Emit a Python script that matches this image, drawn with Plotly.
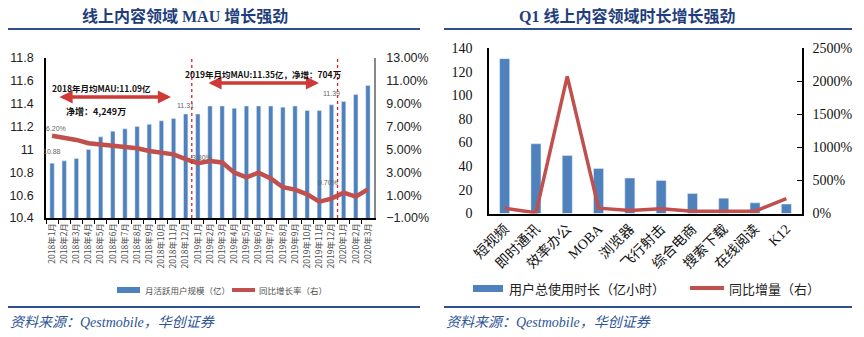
import plotly.graph_objects as go

# ---------------- data: left chart ----------------
months = [f"{y}年{m}月" for y, m in
          [(2018, i) for i in range(1, 13)] + [(2019, i) for i in range(1, 13)] + [(2020, i) for i in range(1, 4)]]
mau = [10.88, 10.90, 10.92, 11.00, 11.11, 11.16, 11.18, 11.20, 11.22, 11.25, 11.27, 11.31,
       11.31, 11.38, 11.38, 11.36, 11.38, 11.38, 11.38, 11.37, 11.38, 11.34, 11.34, 11.39,
       11.42, 11.48, 11.56]
growth = [6.20, 6.03, 5.83, 5.54, 5.42, 5.33, 5.21, 5.10, 4.86, 4.75, 4.57, 4.16,
          3.80, 3.99, 3.86, 2.97, 2.56, 2.97, 2.47, 1.69, 1.48, 1.07, 0.43, 0.70,
          1.22, 0.87, 1.51]
left_y_ticks = [10.4, 10.6, 10.8, 11.0, 11.2, 11.4, 11.6, 11.8]
left_y_text = ["10.4", "10.6", "10.8", "11", "11.2", "11.4", "11.6", "11.8"]

# ---------------- data: right chart ----------------
sectors = ["短视频", "即时通讯", "效率办公", "MOBA", "浏览器", "飞行射击", "综合电商", "搜索下载", "在线阅读", "K12"]
hours = [131, 59, 49, 38, 30, 28, 17, 13, 9, 8]
yoy = [80, 10, 2070, 80, 45, 70, 35, 35, 35, 225]

BLUE = "#4F81BD"
RED = "#C0504D"
NAVY = "#1F3E7C"
W, H = 864, 337


def px(x):
    return x / W


def py(y):
    return 1 - y / H


fig = go.Figure()
fig.add_bar(x=months, y=mau, marker_color=BLUE, width=0.36, xaxis="x", yaxis="y", showlegend=False)
fig.add_scatter(x=months, y=growth, mode="lines", line=dict(color=RED, width=4.5),
                xaxis="x", yaxis="y2", showlegend=False)
fig.add_bar(x=sectors, y=hours, marker_color=BLUE, width=0.32, xaxis="x2", yaxis="y3", showlegend=False)
fig.add_scatter(x=sectors, y=yoy, mode="lines", line=dict(color=RED, width=3.5),
                xaxis="x2", yaxis="y4", showlegend=False)

sans_narrow = "Liberation Sans Narrow, Liberation Sans, Arial"
serif = "Liberation Serif, Noto Sans CJK SC"
cjk = "Noto Sans CJK SC"

fig.update_layout(
    width=W, height=H, margin=dict(l=0, r=0, t=0, b=0, autoexpand=False),
    paper_bgcolor="white", plot_bgcolor="white",
    xaxis=dict(domain=[px(46), px(374)], anchor="y", type="category", range=[-0.5, 26.5],
               tickangle=-90, tickfont=dict(family=cjk, size=8.5, color="#505050"),
               ticks="outside", ticklen=4, tickson="boundaries", tickcolor="#000",
               showline=True, linecolor="#000", linewidth=1.5, showgrid=False, automargin=False),
    yaxis=dict(domain=[py(218), py(58)], anchor="x", range=[10.4, 11.8],
               tickvals=left_y_ticks, ticktext=left_y_text,
               tickfont=dict(family=sans_narrow, size=12.5, color="#222"),
               showline=True, linecolor="#000", linewidth=1.5, showgrid=False,
               ticks="", ticklabelstandoff=8, zeroline=False, automargin=False),
    yaxis2=dict(overlaying="y", side="right", anchor="x", range=[-1, 13], dtick=2, tick0=-1,
                tickformat=".2f", ticksuffix="%",
                tickfont=dict(family=sans_narrow, size=12.5, color="#222"),
                showline=True, linecolor="#888", linewidth=1.5, showgrid=False,
                ticks="", ticklabelstandoff=8, zeroline=False, automargin=False),
    xaxis2=dict(domain=[px(489), px(802)], anchor="y3", type="category", range=[-0.5, 9.5],
                tickangle=-45, tickfont=dict(family=serif, size=14, color="#111"),
                ticks="", showline=True, linecolor="#000", linewidth=1.5, showgrid=False, automargin=False),
    yaxis3=dict(domain=[py(213.5), py(48)], anchor="x2", range=[0, 140], dtick=20,
                tickfont=dict(family=serif, size=14, color="#111"),
                showline=True, linecolor="#000", linewidth=1.5, showgrid=False,
                ticks="", ticklabelstandoff=12, zeroline=False, automargin=False),
    yaxis4=dict(overlaying="y3", side="right", anchor="x2", range=[0, 2500], dtick=500,
                ticksuffix="%", tickfont=dict(family=serif, size=14, color="#111"),
                showline=True, linecolor="#000", linewidth=1.5, showgrid=False,
                ticks="inside", ticklen=5, tickcolor="#000", ticklabelstandoff=6, zeroline=False,
                automargin=False),
)

ann = []
shapes = []


def note(x, y, text, font, xanchor="center"):
    ann.append(dict(x=px(x), y=py(y), xref="paper", yref="paper", showarrow=False,
                    xanchor=xanchor, yanchor="middle", text=text, font=font))


# titles and rules
note(185, 16, "<b>线上内容领域 MAU 增长强劲</b>", dict(family=serif, size=16, color=NAVY))
note(627, 16, "<b>Q1 线上内容领域时长增长强劲</b>", dict(family=serif, size=16, color=NAVY))
for x0, x1 in [(8, 420), (444, 852)]:
    shapes.append(dict(type="line", xref="paper", yref="paper", x0=px(x0), x1=px(x1),
                       y0=py(29), y1=py(29), line=dict(color="#2E4F8F", width=2)))
    shapes.append(dict(type="line", xref="paper", yref="paper", x0=px(x0), x1=px(x1),
                       y0=py(307), y1=py(307), line=dict(color="#2E4F8F", width=2)))
for x0 in [8, 444]:
    note(x0, 322, "<i>资料来源：Qestmobile，华创证券</i>", dict(family=serif, size=14, color="#2E5597"),
         xanchor="left")

# dotted separators (left chart)
for xc in [11.5, 23.5]:
    shapes.append(dict(type="line", xref="x", yref="y domain", x0=xc, x1=xc, y0=0, y1=1,
                       line=dict(color="#E02020", width=1.3, dash="dot")))

# double arrows
for (xa, xb, yy) in [(58, 171, 97), (207, 319, 83)]:
    ann.append(dict(x=px(xb), y=py(yy), ax=-(xb - xa), ay=0, xref="paper", yref="paper",
                    axref="pixel", ayref="pixel", text="", showarrow=True, arrowside="end+start",
                    arrowhead=2, arrowsize=0.75, arrowwidth=3.5, arrowcolor="#D03A36"))
note(101, 88, "<b>2018年月均MAU:11.09亿</b>", dict(family=cjk, size=8.5, color="#111"))
note(64, 112, "<b>净增：4,249万</b>", dict(family=cjk, size=9, color="#111"), xanchor="left")
note(263, 74, "<b>2019年月均MAU:11.35亿，净增：704万</b>", dict(family=cjk, size=8.5, color="#111"))

# data labels
lab_font = dict(family=sans_narrow, size=7, color="#666")
for i, ys in [(0, 12), (11, 8), (23, 11)]:
    ann.append(dict(x=months[i], y=mau[i], xref="x", yref="y", showarrow=False, yshift=ys,
                    xanchor="center", yanchor="middle", text=f"{mau[i]:.2f}", font=lab_font))
for i, ys, xs in [(0, 7, 4), (12, 6, 4), (23, 16, -3)]:
    ann.append(dict(x=months[i], y=growth[i], xref="x", yref="y2", showarrow=False, yshift=ys, xshift=xs,
                    xanchor="center", yanchor="middle", text=f"{growth[i]:.2f}%", font=lab_font))

# manual legends
shapes.append(dict(type="rect", xref="paper", yref="paper", x0=px(117), x1=px(140), y0=py(293), y1=py(287),
                   fillcolor=BLUE, line=dict(width=0)))
note(143, 290, "月活跃用户规模（亿）", dict(family=cjk, size=8.5, color="#505050"), xanchor="left")
shapes.append(dict(type="line", xref="paper", yref="paper", x0=px(232), x1=px(255), y0=py(290), y1=py(290),
                   line=dict(color=RED, width=4)))
note(257, 290, "同比增长率（右）", dict(family=cjk, size=8.5, color="#505050"), xanchor="left")

shapes.append(dict(type="rect", xref="paper", yref="paper", x0=px(473), x1=px(503), y0=py(292), y1=py(285),
                   fillcolor=BLUE, line=dict(width=0)))
note(507, 288, "用户总使用时长（亿小时）", dict(family=cjk, size=13, color="#222"), xanchor="left")
shapes.append(dict(type="line", xref="paper", yref="paper", x0=px(690), x1=px(724), y0=py(288), y1=py(288),
                   line=dict(color=RED, width=4)))
note(727, 288, "同比增量（右）", dict(family=cjk, size=13, color="#222"), xanchor="left")

fig.update_layout(annotations=ann, shapes=shapes)
fig.write_html("out.html")
